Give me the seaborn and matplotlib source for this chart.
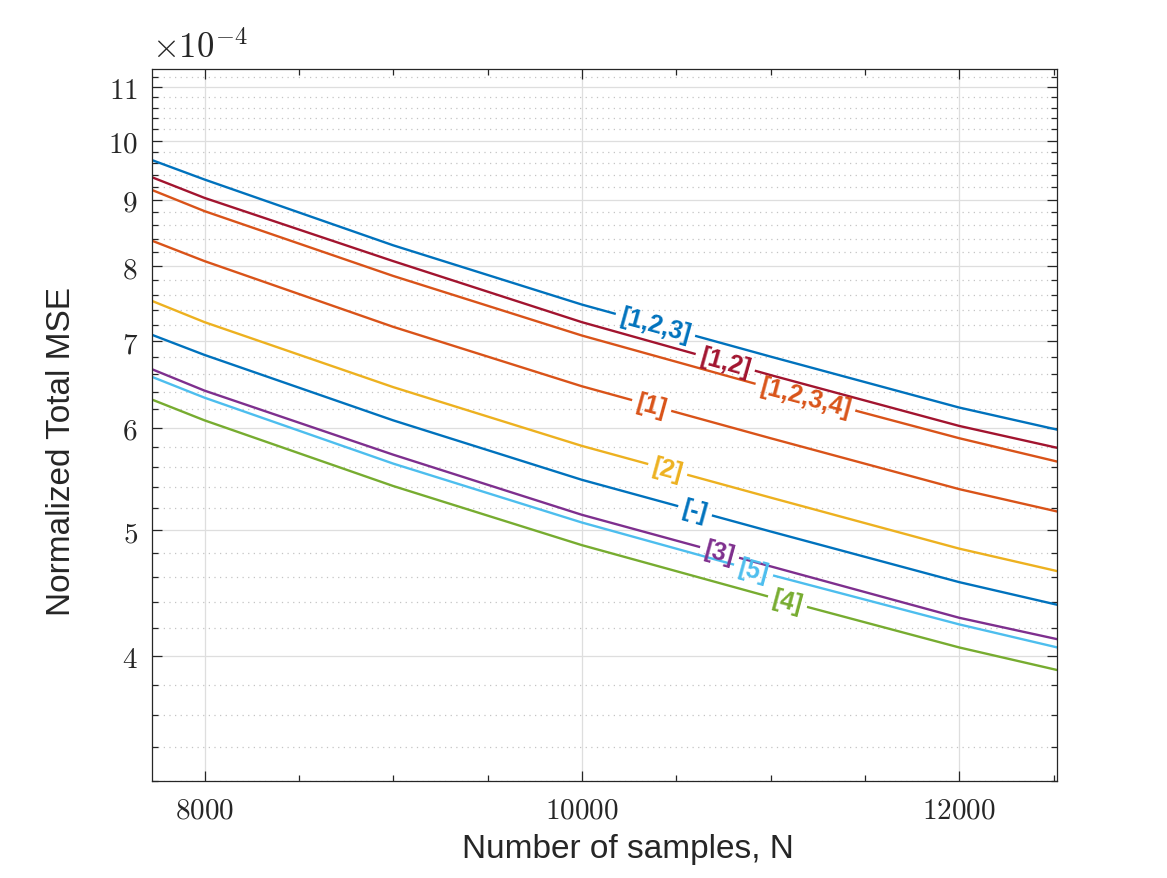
import numpy as np
import pandas as pd
import seaborn as sns
import matplotlib.pyplot as plt
from matplotlib.ticker import FixedLocator, FixedFormatter, NullFormatter

sns.set_theme(style='ticks')
plt.rcParams['font.family'] = ['Liberation Sans', 'DejaVu Sans']
plt.rcParams['mathtext.fontset'] = 'cm'

# number of samples
N = [7720, 8000, 9000, 10000, 11000, 12000, 12520]

# normalized total MSE, in units of 1e-4
mse_123 = [9.66, 9.33, 8.30, 7.47, 6.81, 6.22, 5.98]
mse_12 = [9.37, 9.03, 8.07, 7.24, 6.59, 6.02, 5.79]
mse_1234 = [9.16, 8.82, 7.86, 7.07, 6.44, 5.89, 5.65]
mse_1 = [8.37, 8.07, 7.18, 6.46, 5.89, 5.38, 5.17]
mse_2 = [7.52, 7.24, 6.45, 5.81, 5.30, 4.84, 4.65]
mse_none = [7.08, 6.83, 6.08, 5.47, 4.99, 4.56, 4.38]
mse_3 = [6.66, 6.41, 5.72, 5.14, 4.69, 4.28, 4.12]
mse_5 = [6.57, 6.33, 5.63, 5.07, 4.62, 4.23, 4.06]
mse_4 = [6.31, 6.08, 5.41, 4.87, 4.44, 4.06, 3.90]

series = {
    '[1,2,3]': mse_123,
    '[1,2]': mse_12,
    '[1,2,3,4]': mse_1234,
    '[1]': mse_1,
    '[2]': mse_2,
    '[-]': mse_none,
    '[3]': mse_3,
    '[5]': mse_5,
    '[4]': mse_4,
}
colors = {
    '[1,2,3]': '#0072BD',
    '[1,2]': '#A2142F',
    '[1,2,3,4]': '#D95319',
    '[1]': '#D95319',
    '[2]': '#EDB120',
    '[-]': '#0072BD',
    '[3]': '#7E2F8E',
    '[5]': '#4DBEEE',
    '[4]': '#77AC30',
}
# where along N each inline label sits
label_at = {
    '[1,2,3]': 10390, '[1,2]': 10760, '[1,2,3,4]': 11185, '[1]': 10370,
    '[2]': 10455, '[-]': 10600, '[3]': 10730, '[5]': 10910, '[4]': 11090,
}

rows = []
for name, vals in series.items():
    for n, v in zip(N, vals):
        rows.append({'N': n, 'mse': v * 1e-4, 'set': name})
df = pd.DataFrame(rows)

fig = plt.figure(figsize=(11.67, 8.79), dpi=100)
ax = fig.add_axes([0.130, 0.110, 0.776, 0.810])

sns.lineplot(data=df, x='N', y='mse', hue='set', palette=colors,
             hue_order=list(series.keys()), linewidth=1.7, legend=False,
             ax=ax, zorder=2)

ax.set_yscale('log')
ax.set_xlim(N[0], N[-1])
ax.set_ylim(3.2e-4, 11.35e-4)

# y ticks
major_y = [4, 5, 6, 7, 8, 9, 10, 11]
minor_y = [v / 10 for v in range(32, 114, 2) if v % 10 != 0]
ax.yaxis.set_major_locator(FixedLocator([v * 1e-4 for v in major_y]))
ax.yaxis.set_major_formatter(FixedFormatter(['$%d$' % v for v in major_y]))
ax.yaxis.set_minor_locator(FixedLocator([v * 1e-4 for v in minor_y]))
ax.yaxis.set_minor_formatter(NullFormatter())

# x ticks
major_x = [8000, 10000, 12000]
ax.xaxis.set_major_locator(FixedLocator(major_x))
ax.xaxis.set_major_formatter(FixedFormatter(['$%d$' % v for v in major_x]))
ax.xaxis.set_minor_locator(FixedLocator([8500, 9000, 9500, 10500, 11000, 11500, 12500]))

ax.tick_params(which='both', direction='in', top=True, right=True,
               colors='#262626', labelsize=21, width=0.9)
ax.tick_params(which='major', length=7, pad=10)
ax.tick_params(which='minor', length=4.5)

ax.grid(which='major', color='#DEDEDE', linewidth=0.9, linestyle='-')
ax.grid(which='minor', axis='y', color='#C4C4C4', linewidth=0.9,
        linestyle=(0, (1, 3.5)))
ax.grid(which='minor', axis='x', visible=False)
ax.set_axisbelow(True)

for s in ax.spines.values():
    s.set_color('#262626')
    s.set_linewidth(0.9)

ax.set_xlabel('Number of samples, N', fontsize=24)
ax.set_ylabel('Normalized Total MSE', fontsize=24)
ax.xaxis.set_label_coords(0.526, -0.073)
ax.yaxis.set_label_coords(-0.083, 0.464)

ax.text(0.0, 1.008, r'$\times10^{-4}$', transform=ax.transAxes,
        fontsize=25, ha='left', va='bottom', color='#262626')

# inline labels: white gap in the own line, then the text on top
fig.canvas.draw()
renderer = fig.canvas.get_renderer()
x_px_per_unit = (ax.transData.transform((N[-1], 1e-4))[0]
                 - ax.transData.transform((N[0], 1e-4))[0]) / (N[-1] - N[0])


def on_line(x, vals):
    return 10 ** np.interp(x, N, np.log10(vals)) * 1e-4


for name, vals in series.items():
    xl = label_at[name]
    yl = on_line(xl, vals)
    p1 = ax.transData.transform((xl - 200, on_line(xl - 200, vals)))
    p2 = ax.transData.transform((xl + 200, on_line(xl + 200, vals)))
    ang = np.degrees(np.arctan2(p2[1] - p1[1], p2[0] - p1[0]))
    t = ax.text(xl, yl, name, color=colors[name], fontsize=18,
                fontweight='bold', ha='center', va='center', zorder=4)
    w = t.get_window_extent(renderer).width
    t.set_rotation(ang)
    t.set_rotation_mode('anchor')
    half = (w / 2 + 5) * np.cos(np.radians(ang)) / x_px_per_unit
    xs = [xl - half, xl, xl + half]
    ax.plot(xs, [on_line(x, vals) for x in xs], color='white',
            linewidth=4.5, solid_capstyle='butt', zorder=3)

fig.savefig('out.png', dpi=100)
